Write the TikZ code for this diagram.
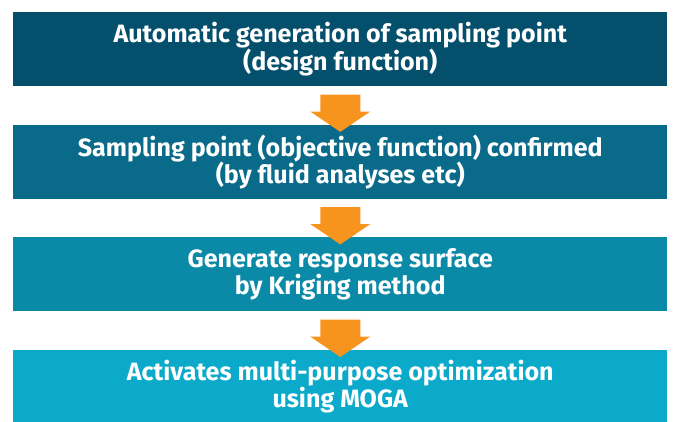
\documentclass[tikz,border=0pt]{standalone}
\usepackage{fontspec}
\setmainfont{Fira Sans}
\usepackage{tikz}
\usetikzlibrary{positioning}
\usetikzlibrary{calc}
\definecolor{boxa}{HTML}{04506C}
\definecolor{boxb}{HTML}{0A6A8A}
\definecolor{boxc}{HTML}{0B8AA8}
\definecolor{boxd}{HTML}{0BAACB}
\definecolor{arr}{HTML}{F7941D}
\tikzset{
  stepbox/.style={fill=#1, text=white, minimum width=490.5pt, minimum height=55.5pt, align=center, inner sep=0pt, font=\fontsize{18.8}{20.5}\selectfont\bfseries},
  downarrow/.style={fill=arr}
}
\newcommand{\blockarrow}[2]{%
\fill[downarrow] ($(#1.south)+(-15pt,-6pt)$) -- ($(#1.south)+(15pt,-6pt)$) -- ($(#1.south)+(15pt,-18.75pt)$) -- ($(#1.south)+(22.5pt,-18.75pt)$) -- ($(#2.north)+(0,-5.5pt)$) -- ($(#1.south)+(-22.5pt,-18.75pt)$) -- ($(#1.south)+(-15pt,-18.75pt)$) -- cycle;}
\begin{document}
\begin{tikzpicture}[node distance=28.5pt]
\path[use as bounding box] (0,0) rectangle (504.75pt,-315.75pt);
\path node[stepbox=boxa, below right=9pt and 9.75pt of {(0,0)}, anchor=north west] (gen) {Automatic generation of sampling point\\(design function)};
\path node[stepbox=boxb, below =of gen] (conf) {Sampling point (objective function) confirmed\\(by fluid analyses etc)};
\path node[stepbox=boxc, below =of conf] (surf) {Generate response surface\\by Kriging method};
\path node[stepbox=boxd, below =of surf] (moga) {Activates multi-purpose optimization\\using MOGA};
\blockarrow{gen}{conf}
\blockarrow{conf}{surf}
\blockarrow{surf}{moga}
\end{tikzpicture}
\end{document}
